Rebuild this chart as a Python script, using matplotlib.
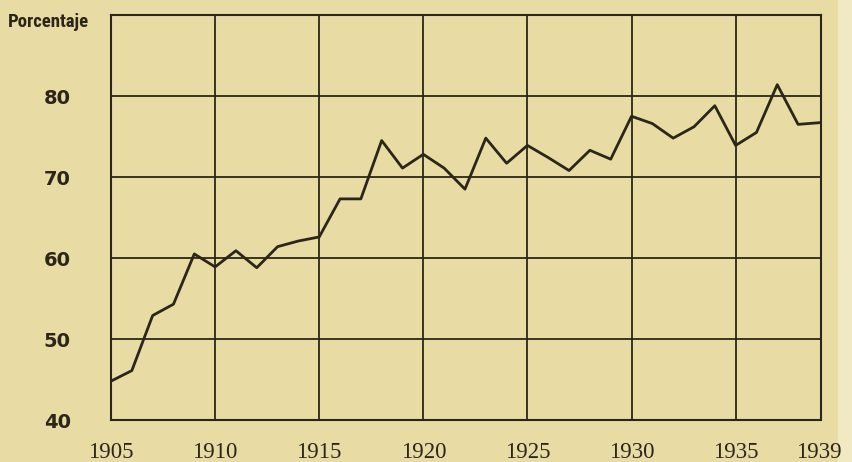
import numpy as np
import matplotlib
matplotlib.use("Agg")
import matplotlib.pyplot as plt

# porcentaje por año
years = np.arange(1905, 1940)
pct = [44.8, 46.1, 52.9, 54.3, 60.5, 58.9, 60.9, 58.8, 61.4, 62.1,
       62.6, 67.3, 67.3, 74.5, 71.1, 72.8, 71.1, 68.5, 74.8, 71.7,
       73.9, 72.4, 70.8, 73.3, 72.2, 77.5, 76.6, 74.8, 76.2, 78.8,
       73.9, 75.5, 81.4, 76.5, 76.7]

xticks = [1905, 1910, 1915, 1920, 1925, 1930, 1935, 1939]
yticks = [40, 50, 60, 70, 80]

paper = "#e8dba4"
ink = "#2b2619"

fig = plt.figure(figsize=(8.52, 4.62), dpi=100, facecolor=paper)
ax = fig.add_axes([0.1303, 0.0909, 0.8333, 0.8766])
ax.set_facecolor(paper)

# grid
for x in [1910, 1915, 1920, 1925, 1930, 1935]:
    ax.axvline(x, color=ink, lw=1.3, zorder=1)
for y in [50, 60, 70, 80]:
    ax.axhline(y, color=ink, lw=1.3, zorder=1)

ax.plot(years, pct, color=ink, lw=2.0, zorder=3)

ax.set_xlim(1905, 1939.1)
ax.set_ylim(40, 90)
for s in ax.spines.values():
    s.set_color(ink)
    s.set_linewidth(1.5)

ax.set_xticks(xticks)
ax.set_xticklabels([str(t) for t in xticks], family="Liberation Serif",
                   fontsize=16.5, color=ink)
ax.set_yticks(yticks)
ax.set_yticklabels([str(t) for t in yticks], family="DejaVu Sans",
                   fontweight="bold", fontsize=14, color=ink)
ax.tick_params(axis="x", length=0, pad=16)
ax.tick_params(axis="y", length=0, pad=29)

fig.text(0.0094, 0.952, "Porcentaje", family=["Roboto Condensed", "Roboto"],
         fontweight="bold", fontsize=13.5, color=ink, ha="left", va="center")

# borde claro de la pagina escaneada (debajo de todo)
fig.patches.append(plt.Rectangle((0.984, 0), 0.016, 1, transform=fig.transFigure,
                                 color="#f1e9c4", zorder=-1))

fig.savefig("out.png", dpi=100, facecolor=paper)
